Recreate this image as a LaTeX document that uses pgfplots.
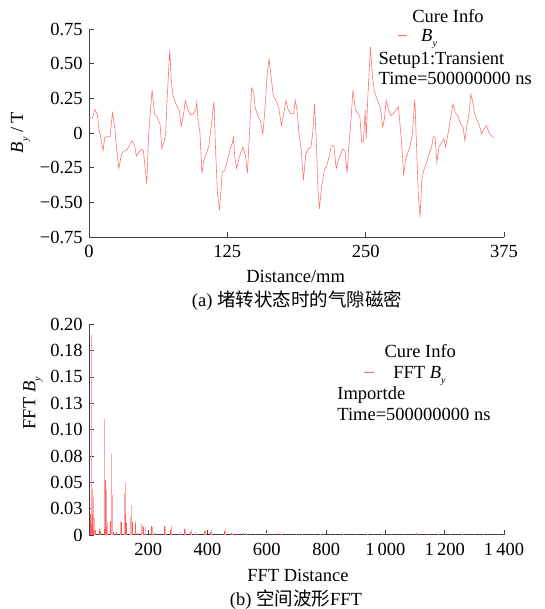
\documentclass[border=0pt]{standalone}
\usepackage{fontspec}
\setmainfont{Liberation Serif}
\newfontfamily\cjk{Noto Sans CJK SC}
\usepackage{pgfplots}
\pgfplotsset{compat=1.18}

\newcommand{\By}{{\itshape B}\raisebox{-5bp}{\fontsize{10bp}{10bp}\selectfont\itshape y}}

\pgfplotsset{
  gapstyle/.style={
    scale only axis, anchor=south west, width=415bp,
    axis lines=left, axis line style={-, black!75, line width=1bp},
    tick align=inside, major tick length=5bp,
    tick style={black!75, line width=0.8bp},
    xticklabel style={yshift=-2bp},
    /pgf/number format/assume math mode=true,
  }
}

\begin{document}
\fontsize{18.5bp}{22bp}\selectfont
\begin{tikzpicture}[x=1bp,y=1bp]
\useasboundingbox (0,0) rectangle (545,609);

% (a) air gap flux density
\begin{axis}[gapstyle, at={(89bp,371.7bp)}, height=208.3bp,
  xmin=0, xmax=375, ymin=-0.75, ymax=0.75,
  xtick={0,125,250,375},
  ytick={-0.75,-0.5,-0.25,0,0.25,0.5,0.75},
  yticklabels={−0.75,−0.50,−0.25,0,0.25,0.50,0.75},
]
\addplot[red!55, line width=0.6bp] coordinates {
(0,0.11)(3.2,0.11)(5.4,0.17)(7.4,0.14)(9,0.03)(11.1,-0.05)(12.7,-0.125)(14.3,-0.03)(17.5,-0.025)(19,-0.025)
(21.2,0.145)(23.2,0.045)(25.4,-0.15)(27,-0.255)(29.2,-0.155)(31,-0.13)(33.9,-0.125)(39,-0.055)(41.2,-0.085)
(42.8,-0.165)(45.3,-0.135)(47.5,-0.115)(49.1,-0.125)(52.2,-0.365)(53.9,-0.005)(57,0.31)(59.2,0.14)(61.7,0.115)
(64.2,0.065)(65.8,-0.11)(67.4,-0.075)(69.3,-0.005)(70.5,0.235)(73,0.60)(74.3,0.38)(75.9,0.27)(79,0.2)
(81.6,0.165)(83.2,0.05)(85.4,0.13)(87,0.235)(89.2,0.175)(91.7,0.13)(94.2,0.14)(96.4,0.165)(97.4,0.225)
(98.6,0.09)(100.2,0.007)(102.1,-0.29)(103.7,-0.195)(105.9,-0.15)(108.4,-0.09)(110.6,0.065)(112.9,0.225)
(114.4,-0.125)(116,-0.425)(117.9,-0.555)(120.4,-0.28)(122.6,-0.27)(125.4,-0.185)(128,-0.1)(129.5,-0.075)
(130.5,-0.03)(131.7,-0.17)(133.4,-0.255)(135.9,-0.17)(139,-0.1)(141.3,-0.16)(143.1,-0.29)(145,-0.005)
(146.9,0.325)(148.8,0.295)(150.1,0.185)(152.6,0.125)(154.8,0.09)(157.1,-0.005)(158.9,0.165)(161.2,0.44)
(162.7,0.535)(164.6,0.40)(166.5,0.27)(169,0.235)(171.5,0.185)(173.8,0.055)(176,0.14)(177.9,0.235)
(180.1,0.165)(182.3,0.14)(184.8,0.14)(186.4,0.235)(188,0.165)(189.9,-0.015)(191.8,-0.125)(193.7,-0.34)
(195.9,-0.15)(198.1,-0.115)(200.6,-0.1)(202.2,0.007)(203.8,0.21)(205.4,-0.055)(206.9,-0.41)(208.2,-0.545)
(210.1,-0.39)(212.6,-0.27)(214.8,-0.235)(217,-0.17)(218.9,-0.09)(221.2,-0.09)(223.4,-0.255)(225.3,-0.195)
(227.5,-0.15)(229,-0.115)(231.3,-0.125)(233.2,-0.29)(234.7,-0.1)(236.3,0.045)(238.5,0.31)(240.8,0.165)
(243.3,0.14)(244.8,0.115)(246.4,-0.065)(248,-0.055)(249.6,0.165)(250.5,-0.04)(251.8,0.235)(254.3,0.62)
(256.2,0.40)(258.1,0.295)(260.6,0.235)(263.2,0.185)(265.4,0.045)(267,0.105)(268.5,0.235)(270.1,0.185)
(272.6,0.125)(274.8,0.14)(277.4,0.165)(279.6,0.19)(281.2,0.045)(282.7,-0.1)(284.3,-0.305)(285.9,-0.195)
(288.4,-0.135)(290,-0.1)(292.2,-0.005)(294.4,0.245)(296,-0.1)(297.5,-0.435)(299.1,-0.605)(300.7,-0.34)
(302.3,-0.27)(304.8,-0.22)(307.3,-0.15)(309.6,-0.1)(311.1,-0.025)(312.7,-0.03)(314.3,-0.21)(316.2,-0.1)
(318.1,-0.075)(320.6,-0.04)(322.2,-0.1)(324.4,-0.005)(326.3,0.09)(328.9,0.21)(330.8,0.15)(333.3,0.125)
(335.8,0.065)(338,0.045)(339.6,-0.055)(341.5,0.055)(343.4,0.14)(345,0.28)(346.5,0.235)(348.4,0.14)
(350.9,0.09)(352.8,0.055)(354.7,-0.005)(357,0.03)(359.2,0.055)(361.1,0.007)(363.3,-0.017)(365.8,-0.035)
};
\end{axis}

% (b) spatial FFT
\begin{axis}[gapstyle, at={(89bp,74bp)}, height=210.7bp,
  xmin=0, xmax=1400, ymin=0, ymax=0.2,
  xtick={200,400,600,800,1000,1200,1400},
  xticklabels={200,400,600,800,1\,000,1\,200,1\,400},
  ytick={0,0.025,0.05,0.075,0.1,0.125,0.15,0.175,0.2},
  yticklabels={0,0.03,0.05,0.08,0.10,0.13,0.15,0.18,0.20},
]
\addplot[ycomb, red!35, line width=0.9bp] coordinates {
(5.6,0.016)(7,0.19)(10.1,0.044)(12.4,0.030)(15.7,0.036)(17.9,0.016)(35.7,0.006)(53.4,0.110)(57.3,0.043)
(63,0.012)(75.3,0.077)(77.6,0.038)(79.4,0.036)(106.8,0.012)(120.3,0.040)(122.6,0.049)(138.4,0.017)
(141.7,0.022)(144,0.028)(155.2,0.013)(175.5,0.010)(180.6,0.009)(189,0.0076)(214.9,0.008)(257.4,0.008)
(279.7,0.009)(307,0.003)(324.5,0.006)(345.7,0.005)(357.7,0.003)(392.9,0.005)(413,0.005)(460,0.006)
(484,0.0015)(531,0.0015)(599.5,0.002)(650,0.001)(720,0.001)(780,0.001)(860,0.001)(940,0.001)
(990,0.0012)(1103,0.002)(1180,0.001)(1260,0.001)(1330,0.0012)
};
\addplot[ycomb, red!65, line width=0.7bp] coordinates {
(3,0.012)(6,0.020)(8,0.010)(11,0.020)(14,0.005)(20.2,0.005)(33.7,0.006)(37,0.004)(50.6,0.006)
(55.1,0.052)(59.6,0.008)(73.1,0.013)(82.1,0.003)(91,0.003)(110.2,0.012)(124,0.020)(127.1,0.011)
(145,0.012)(157,0.010)(164.3,0.002)(183.4,0.008)(209.2,0.009)(219.4,0.002)(254.2,0.009)(275.6,0.005)
(321.7,0.006)(343,0.003)(388,0.004)(408.3,0.003)(455.5,0.004)(481.4,0.002)(520.7,0.002)(560,0.001)
(640,0.0015)(700,0.001)(760,0.001)(830,0.0012)(900,0.001)(960,0.001)(1020,0.001)(1060,0.0012)
(1103,0.0015)(1140,0.001)(1220,0.001)(1300,0.001)(1380,0.001)
};
\end{axis}

% labels and captions
\node[rotate=90] at (20.6,476.5) {\By\ / T};
\node[anchor=base] at (295.6,326.3) {Distance/mm};
\node at (297,308) {(a) {\cjk 堵转状态时的气隙磁密}};
\node[rotate=90] at (33,205.7) {FFT \By};
\node[anchor=base] at (297.9,27.3) {FFT Distance};
\node at (296,9) {(b) {\cjk 空间波形}FFT};

% legend blocks
\node[anchor=base] at (448,586.7) {Cure Info};
\draw[red!60, line width=0.8bp] (397.6,573.3) -- (407,573.3);
\node[anchor=base west, inner sep=0pt] at (421,567.3) {\By};
\node[anchor=base west, inner sep=0pt] at (378.4,544) {Setup1:Transient};
\node[anchor=base west, inner sep=0pt] at (378.4,524) {Time=500000000 ns};

\node[anchor=base] at (420.2,251.7) {Cure Info};
\draw[red!60, line width=0.8bp] (364.4,236.7) -- (373.9,236.7);
\node[anchor=base west, inner sep=0pt] at (393.1,230.7) {FFT \By};
\node[anchor=base west, inner sep=0pt] at (337.2,209.7) {Importde};
\node[anchor=base west, inner sep=0pt] at (337.2,188.3) {Time=500000000 ns};
\end{tikzpicture}
\end{document}
